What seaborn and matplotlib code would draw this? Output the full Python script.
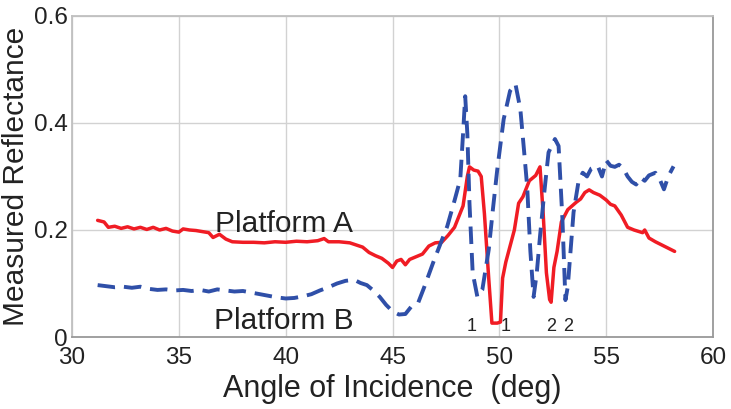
import numpy as np
import pandas as pd
import seaborn as sns
import matplotlib as mpl
import matplotlib.pyplot as plt

mpl.use('Agg')

# Platform A (solid red)
angle_a = [31.2, 31.5, 31.7, 32.0, 32.3, 32.6, 32.9, 33.2, 33.5, 33.8, 34.1, 34.4, 34.7,
           35.0, 35.2, 35.5, 35.8, 36.1, 36.4, 36.6, 36.9, 37.2, 37.5, 38.0, 38.5, 39.0,
           39.5, 40.0, 40.5, 41.0, 41.5, 41.8, 42.0, 42.5, 43.0, 43.3, 43.6, 43.9, 44.2,
           44.5, 44.8, 45.0, 45.2, 45.4, 45.6, 45.8, 46.1, 46.4, 46.7, 47.0, 47.3, 47.6,
           47.9, 48.1, 48.3, 48.5, 48.6, 48.8, 49.0, 49.15, 49.3, 49.5, 49.65, 49.9, 50.05,
           50.15, 50.3, 50.5, 50.7, 50.9, 51.1, 51.4, 51.7, 51.9, 52.05, 52.2, 52.35, 52.42,
           52.55, 52.7, 52.9, 53.2, 53.4, 53.6, 53.8, 54.0, 54.2, 54.4, 54.7, 55.0, 55.2,
           55.4, 55.7, 56.0, 56.3, 56.7, 56.8, 57.0, 57.3, 57.6, 57.9, 58.2]
refl_a = [0.218, 0.215, 0.205, 0.207, 0.203, 0.206, 0.202, 0.205, 0.201, 0.205, 0.200, 0.203, 0.198,
          0.196, 0.202, 0.200, 0.199, 0.197, 0.195, 0.186, 0.192, 0.183, 0.178, 0.177, 0.177, 0.176,
          0.178, 0.177, 0.179, 0.178, 0.180, 0.184, 0.178, 0.178, 0.176, 0.172, 0.168, 0.158, 0.152,
          0.147, 0.138, 0.130, 0.142, 0.145, 0.135, 0.145, 0.150, 0.155, 0.170, 0.176, 0.177, 0.190,
          0.205, 0.225, 0.245, 0.300, 0.318, 0.312, 0.310, 0.300, 0.230, 0.110, 0.026, 0.026, 0.028,
          0.110, 0.140, 0.170, 0.200, 0.250, 0.262, 0.292, 0.302, 0.318, 0.230, 0.120, 0.070, 0.065,
          0.130, 0.160, 0.215, 0.238, 0.245, 0.252, 0.258, 0.270, 0.275, 0.270, 0.265, 0.256, 0.248,
          0.245, 0.228, 0.205, 0.200, 0.195, 0.200, 0.185, 0.178, 0.172, 0.166, 0.160]

# Platform B (dashed blue)
angle_b = [31.2, 31.6, 32.0, 32.4, 32.8, 33.2, 33.6, 34.0, 34.4, 34.8, 35.2, 35.6, 36.0,
           36.4, 36.8, 37.2, 37.6, 38.0, 38.4, 38.8, 39.2, 39.6, 40.0, 40.4, 40.8, 41.2,
           41.6, 42.0, 42.4, 42.8, 43.2, 43.5, 43.8, 44.1, 44.4, 44.7, 45.0, 45.3, 45.6,
           45.9, 46.2, 46.5, 46.9, 47.2, 47.56, 47.9, 48.17, 48.3, 48.4, 48.5, 48.6, 48.75,
           48.97, 49.2, 49.5, 49.7, 49.9, 50.2, 50.5, 50.75, 50.98, 51.15, 51.3, 51.45, 51.6,
           51.75, 51.9, 52.1, 52.3, 52.6, 52.77, 52.95, 53.09, 53.2, 53.47, 53.7, 53.9, 54.1,
           54.3, 54.6, 54.8, 55.0, 55.2, 55.4, 55.6, 55.8, 56.0, 56.2, 56.4, 56.6, 56.8,
           57.0, 57.3, 57.5, 57.7, 57.9, 58.15]
refl_b = [0.097, 0.095, 0.093, 0.094, 0.092, 0.094, 0.090, 0.088, 0.089, 0.087, 0.088, 0.086, 0.088,
          0.085, 0.089, 0.087, 0.085, 0.086, 0.083, 0.080, 0.077, 0.074, 0.072, 0.073, 0.076, 0.080,
          0.087, 0.093, 0.100, 0.105, 0.107, 0.101, 0.097, 0.087, 0.075, 0.060, 0.048, 0.042, 0.043,
          0.058, 0.064, 0.095, 0.139, 0.170, 0.207, 0.255, 0.295, 0.380, 0.450, 0.380, 0.250, 0.120,
          0.075, 0.088, 0.163, 0.240, 0.313, 0.407, 0.460, 0.473, 0.426, 0.350, 0.281, 0.160, 0.075,
          0.120, 0.188, 0.270, 0.345, 0.370, 0.357, 0.220, 0.069, 0.094, 0.233, 0.290, 0.307, 0.300,
          0.315, 0.320, 0.300, 0.330, 0.320, 0.318, 0.322, 0.315, 0.300, 0.290, 0.285, 0.298, 0.292,
          0.302, 0.307, 0.295, 0.276, 0.300, 0.319]

# dip markers under the curves
mark_x = [48.7, 50.3, 52.4, 53.2]
mark_text = ['1', '1', '2', '2']

sns.set_style('whitegrid')
plt.rcParams['font.family'] = ['Liberation Sans', 'DejaVu Sans']

fig = plt.figure(figsize=(7.31, 4.09), dpi=100)
ax = fig.add_axes([0.0985, 0.176, 0.877, 0.785])

sns.lineplot(x=angle_a, y=refl_a, ax=ax, color='#f01c24', linewidth=2.5,
             estimator=None, sort=False)
sns.lineplot(x=angle_b, y=refl_b, ax=ax, color='#2f4fa8', linewidth=2.8,
             estimator=None, sort=False)
ax.lines[1].set_dashes([4.5, 2.3])

ax.set_xlim(30, 60)
ax.set_ylim(0, 0.6)
ax.set_xticks([30, 35, 40, 45, 50, 55, 60])
ax.set_yticks([0, 0.2, 0.4, 0.6])
ax.set_yticklabels(['0', '0.2', '0.4', '0.6'])
ax.grid(True, color='#d2d2d2', linewidth=1)
ax.tick_params(axis='both', length=0, labelsize=17.5, colors='#222222')
ax.tick_params(axis='x', pad=7)
ax.tick_params(axis='y', pad=3)
for side in ['top', 'left']:
    ax.spines[side].set_color('#c0c0c0')
for side in ['bottom', 'right']:
    ax.spines[side].set_color('#999999')
for side in ax.spines:
    ax.spines[side].set_linewidth(1.3)
    ax.spines[side].set_visible(True)

ax.set_xlabel('Angle of Incidence  (deg)', fontsize=22, color='#222222', labelpad=4)
ax.set_ylabel('Measured Reflectance', fontsize=21.5, color='#222222', va='center')
ax.yaxis.set_label_coords(-0.087, 0.5)

ax.text(39.9, 0.212, 'Platform A', fontsize=21.5, color='#222222', ha='center', va='center')
ax.text(39.9, 0.030, 'Platform B', fontsize=21.5, color='#222222', ha='center', va='center')
for mx, mt in zip(mark_x, mark_text):
    ax.text(mx, 0.020, mt, fontsize=13, color='#222222', ha='center', va='center')

fig.savefig('out.png', dpi=100)
